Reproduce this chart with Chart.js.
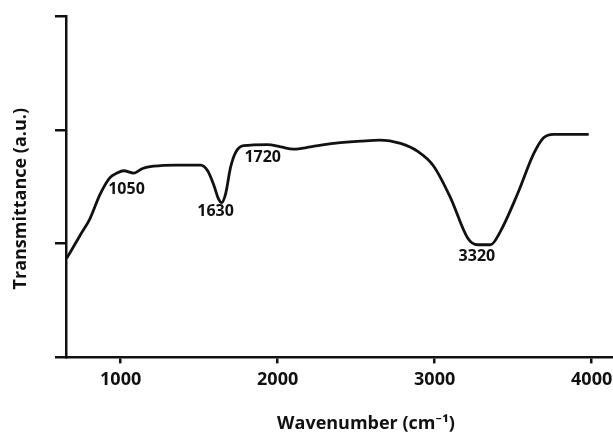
<!DOCTYPE html>
<html>
<head>
<meta charset="utf-8">
<script src="https://cdn.jsdelivr.net/npm/chart.js@4"></script>
<style>
  html, body { margin: 0; padding: 0; background: #fff; }
  #wrap { width: 613px; height: 434px; }
</style>
</head>
<body>
<div id="wrap"><canvas id="ftirChart"></canvas></div>
<script>
// FTIR spectrum
const wavenumbers = [656, 745, 805, 868, 932, 977, 1019, 1083, 1140, 1210, 1350, 1510,
  1554, 1592, 1624, 1643, 1669, 1700, 1732, 1783, 1936, 2019, 2102, 2210, 2357, 2529,
  2650, 2783, 2892, 2994, 3102, 3210, 3274, 3357, 3420, 3529, 3631, 3694, 3758, 3870, 3981];
const transmittance = [0.87, 1.08, 1.22, 1.43, 1.58, 1.62, 1.64, 1.62, 1.66, 1.68, 1.69, 1.69,
  1.64, 1.52, 1.39, 1.36, 1.44, 1.67, 1.80, 1.86, 1.87, 1.85, 1.83, 1.85, 1.88, 1.90,
  1.91, 1.88, 1.81, 1.68, 1.40, 1.05, 0.99, 0.99, 1.11, 1.44, 1.79, 1.93, 1.96, 1.96, 1.96];

// peaks marked on the curve
const peakLabels = ["1050", "1630", "1720", "3320"];
const peakPositions = [1050, 1630, 1720, 3320];

const xTicks = [1000, 2000, 3000, 4000];
const yTicks = [0, 1, 2, 3];

const xTitle = "Wavenumber (cm\u207B\u00B9)";
const yTitle = "Transmittance (a.u.)";

const FONT = "'Open Sans', 'Noto Sans', sans-serif";

// where each label sits relative to the curve at its peak (px)
const labelOffsets = [[-2, 18], [-4, 11], [29, -1], [-8, 12]];

function curveAt(w) {
  for (let i = 1; i < wavenumbers.length; i++) {
    if (w <= wavenumbers[i]) {
      const t = (w - wavenumbers[i - 1]) / (wavenumbers[i] - wavenumbers[i - 1]);
      return transmittance[i - 1] + t * (transmittance[i] - transmittance[i - 1]);
    }
  }
  return transmittance[transmittance.length - 1];
}

// peak labels + axis titles (the original figure is cropped on the right,
// so the x title sits right of the plot centre)
const textPlugin = {
  id: "textLayer",
  afterDatasetsDraw(chart) {
    const ctx = chart.ctx;
    const xs = chart.scales.x, ys = chart.scales.y;
    const area = chart.chartArea;
    ctx.save();
    ctx.fillStyle = "#111";
    ctx.textAlign = "center";
    ctx.textBaseline = "middle";

    ctx.font = "bold 16px " + FONT;
    peakPositions.forEach((w, i) => {
      const px = xs.getPixelForValue(w) + labelOffsets[i][0];
      const py = ys.getPixelForValue(curveAt(w)) + labelOffsets[i][1];
      ctx.fillText(peakLabels[i], px, py);
    });

    ctx.font = "bold 18px " + FONT;
    ctx.fillText(xTitle, area.left + 300, area.bottom + 66);

    ctx.translate(21, (area.top + area.bottom) / 2 + 12);
    ctx.rotate(-Math.PI / 2);
    ctx.fillText(yTitle, 0, 0);
    ctx.restore();
  }
};

const config = {
  type: "line",
  data: {
    datasets: [{
      data: wavenumbers.map((w, i) => ({ x: w, y: transmittance[i] })),
      borderColor: "#111",
      borderWidth: 2.8,
      pointRadius: 0,
      cubicInterpolationMode: "monotone",
      fill: false,
    }],
  },
  options: {
    responsive: true,
    maintainAspectRatio: false,
    animation: false,
    layout: { padding: { left: 55, top: 16, right: 0, bottom: 37 } },
    plugins: { legend: { display: false }, tooltip: { enabled: false } },
    scales: {
      x: {
        type: "linear",
        min: 652,
        max: 4136,
        afterBuildTicks: (s) => { s.ticks = xTicks.map(v => ({ value: v })); },
        // the "4000" label may poke past the edge, like in the original
        afterFit: (s) => { s.paddingRight = 0; },
        ticks: {
          color: "#111",
          padding: 6,
          font: { family: FONT, size: 18, weight: "bold" },
          callback: (v) => String(v),
        },
        grid: { drawOnChartArea: false, tickLength: 6, color: "#111", lineWidth: 2.5 },
        border: { color: "#111", width: 2.5 },
      },
      y: {
        min: 0,
        max: 3,
        afterBuildTicks: (s) => { s.ticks = yTicks.map(v => ({ value: v })); },
        ticks: { display: false },
        grid: { drawOnChartArea: false, tickLength: 11, color: "#111", lineWidth: 2.5 },
        border: { color: "#111", width: 2.5 },
      },
    },
  },
  plugins: [textPlugin],
};

const ftirChart = new Chart(document.getElementById("ftirChart"), config);
</script>
</body>
</html>
